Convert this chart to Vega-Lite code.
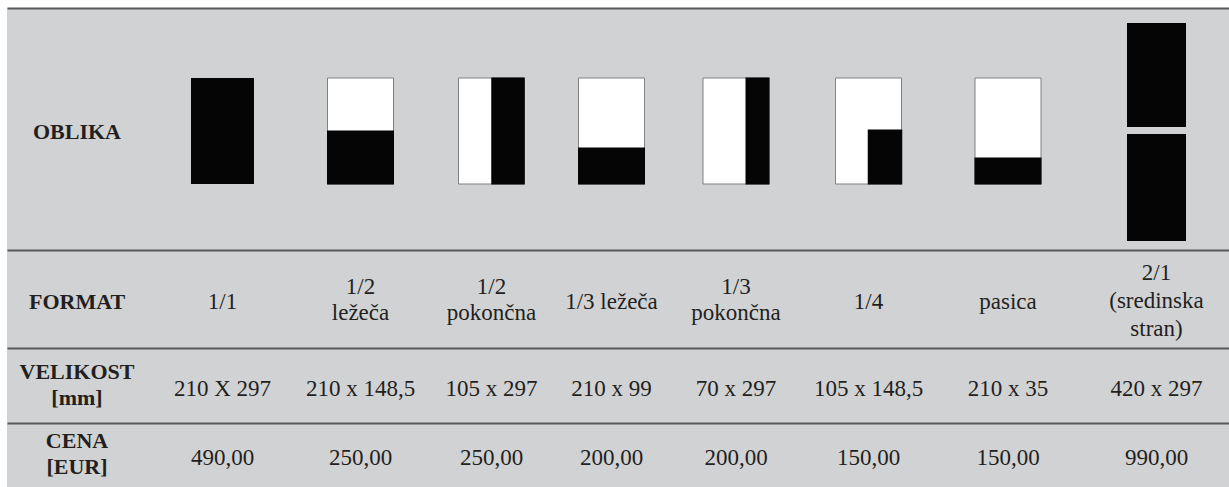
{
  "$schema": "https://vega.github.io/schema/vega-lite/v6.json",
  "width": 1222,
  "height": 479,
  "autosize": {"type": "none"},
  "padding": {"left": 7, "top": 8, "right": 0, "bottom": 0},
  "background": "#ffffff",
  "config": {
    "view": {"fill": "#d1d2d4", "stroke": null},
    "axis": {"gridColor": "#58595b", "gridWidth": 2, "gridOpacity": 1, "labels": false, "ticks": false, "domain": false},
    "text": {"font": "Liberation Serif", "color": "#231f20"}
  },
  "data": {
    "values": [
      {"kind": "label", "col": 0, "row": 0, "text": "OBLIKA"},
      {"kind": "label", "col": 0, "row": 1, "text": "FORMAT"},
      {"kind": "label", "col": 0, "row": 2, "text": "VELIKOST\n[mm]"},
      {"kind": "label", "col": 0, "row": 3, "text": "CENA\n[EUR]"},
      {"kind": "cell", "col": 1, "row": 1, "text": "1/1"},
      {"kind": "cell", "col": 1, "row": 2, "text": "210 X 297"},
      {"kind": "cell", "col": 1, "row": 3, "text": "490,00"},
      {"kind": "cell", "col": 2, "row": 1, "text": "1/2\nležeča"},
      {"kind": "cell", "col": 2, "row": 2, "text": "210 x 148,5"},
      {"kind": "cell", "col": 2, "row": 3, "text": "250,00"},
      {"kind": "cell", "col": 3, "row": 1, "text": "1/2\npokončna"},
      {"kind": "cell", "col": 3, "row": 2, "text": "105 x 297"},
      {"kind": "cell", "col": 3, "row": 3, "text": "250,00"},
      {"kind": "cell", "col": 4, "row": 1, "text": "1/3 ležeča"},
      {"kind": "cell", "col": 4, "row": 2, "text": "210 x 99"},
      {"kind": "cell", "col": 4, "row": 3, "text": "200,00"},
      {"kind": "cell", "col": 5, "row": 1, "text": "1/3\npokončna"},
      {"kind": "cell", "col": 5, "row": 2, "text": "70 x 297"},
      {"kind": "cell", "col": 5, "row": 3, "text": "200,00"},
      {"kind": "cell", "col": 6, "row": 1, "text": "1/4"},
      {"kind": "cell", "col": 6, "row": 2, "text": "105 x 148,5"},
      {"kind": "cell", "col": 6, "row": 3, "text": "150,00"},
      {"kind": "cell", "col": 7, "row": 1, "text": "pasica"},
      {"kind": "cell", "col": 7, "row": 2, "text": "210 x 35"},
      {"kind": "cell", "col": 7, "row": 3, "text": "150,00"},
      {"kind": "cell", "col": 8, "row": 1, "text": "2/1\n(sredinska\nstran)"},
      {"kind": "cell", "col": 8, "row": 2, "text": "420 x 297"},
      {"kind": "cell", "col": 8, "row": 3, "text": "990,00"},
      {"kind": "icon", "col": 1, "row": 0, "shape": "full"},
      {"kind": "icon", "col": 2, "row": 0, "shape": "half_h"},
      {"kind": "icon", "col": 3, "row": 0, "shape": "half_v"},
      {"kind": "icon", "col": 4, "row": 0, "shape": "third_h"},
      {"kind": "icon", "col": 5, "row": 0, "shape": "third_v"},
      {"kind": "icon", "col": 6, "row": 0, "shape": "quarter"},
      {"kind": "icon", "col": 7, "row": 0, "shape": "strip"},
      {"kind": "icon", "col": 8, "row": 0, "shape": "spread"}
    ]
  },
  "encoding": {
    "x": {
      "field": "col", "type": "quantitative", "title": null, "axis": null,
      "scale": {"domain": [-1, 0, 1, 2, 3, 4, 5, 6, 7, 8, 9], "range": [0, 70, 215.5, 353.5, 484.5, 604.5, 729, 861.5, 1001, 1149.5, 1222], "nice": false, "zero": false}
    },
    "y": {
      "field": "row", "type": "quantitative", "title": null,
      "scale": {"domain": [-0.5, 0.5, 1.5, 2.5, 3.5], "range": [0, 242, 340, 415, 479], "nice": false, "zero": false},
      "axis": {"values": [-0.5, 0.5, 1.5, 2.5], "grid": true}
    }
  },
  "layer": [
    {
      "transform": [{"filter": "datum.kind == 'icon' && datum.shape != 'full' && datum.shape != 'spread'"}],
      "mark": {"type": "rect", "width": 66, "height": 106, "yOffset": 2, "fill": "#ffffff", "stroke": "#808080", "strokeWidth": 1}
    },
    {
      "transform": [{"filter": "datum.shape == 'full'"}],
      "mark": {"type": "rect", "width": 63, "height": 106, "yOffset": 2, "fill": "#050505"}
    },
    {
      "transform": [{"filter": "datum.shape == 'half_h'"}],
      "mark": {"type": "rect", "width": 67, "height": 54, "yOffset": 28.5, "fill": "#050505"}
    },
    {
      "transform": [{"filter": "datum.shape == 'half_v'"}],
      "mark": {"type": "rect", "width": 33.5, "height": 107, "xOffset": 16.5, "yOffset": 2, "fill": "#050505"}
    },
    {
      "transform": [{"filter": "datum.shape == 'third_h'"}],
      "mark": {"type": "rect", "width": 67, "height": 37, "yOffset": 37, "fill": "#050505"}
    },
    {
      "transform": [{"filter": "datum.shape == 'third_v'"}],
      "mark": {"type": "rect", "width": 24, "height": 107, "xOffset": 21.5, "yOffset": 2, "fill": "#050505"}
    },
    {
      "transform": [{"filter": "datum.shape == 'quarter'"}],
      "mark": {"type": "rect", "width": 34.5, "height": 55, "xOffset": 16.5, "yOffset": 28, "fill": "#050505"}
    },
    {
      "transform": [{"filter": "datum.shape == 'strip'"}],
      "mark": {"type": "rect", "width": 67, "height": 27, "yOffset": 42, "fill": "#050505"}
    },
    {
      "transform": [{"filter": "datum.shape == 'spread'"}],
      "mark": {"type": "rect", "width": 59, "height": 104, "yOffset": -54, "fill": "#050505"}
    },
    {
      "transform": [{"filter": "datum.shape == 'spread'"}],
      "mark": {"type": "rect", "width": 59, "height": 107, "yOffset": 58.5, "fill": "#050505"}
    },
    {
      "transform": [{"filter": "datum.kind == 'label' && indexof(datum.text, '\\n') < 0"}],
      "mark": {"type": "text", "align": "center", "baseline": "middle", "fontSize": 22, "fontWeight": "bold", "dy": 3},
      "encoding": {"text": {"field": "text", "type": "nominal"}}
    },
    {
      "transform": [{"filter": "datum.kind == 'label' && indexof(datum.text, '\\n') >= 0"}],
      "mark": {"type": "text", "align": "center", "baseline": "middle", "fontSize": 22, "fontWeight": "bold", "lineBreak": "\n", "lineHeight": 26, "dy": -14},
      "encoding": {"text": {"field": "text", "type": "nominal"}}
    },
    {
      "transform": [{"filter": "datum.kind == 'cell' && indexof(datum.text, '\\n') < 0"}],
      "mark": {"type": "text", "align": "center", "baseline": "middle", "fontSize": 23, "dy": 3},
      "encoding": {"text": {"field": "text", "type": "nominal"}}
    },
    {
      "transform": [{"filter": "datum.kind == 'cell' && indexof(datum.text, '\\n') >= 0 && indexof(datum.text, '\\n') == lastindexof(datum.text, '\\n')"}],
      "mark": {"type": "text", "align": "center", "baseline": "middle", "fontSize": 23, "lineBreak": "\n", "lineHeight": 26, "dy": -12},
      "encoding": {"text": {"field": "text", "type": "nominal"}}
    },
    {
      "transform": [{"filter": "datum.kind == 'cell' && indexof(datum.text, '\\n') >= 0 && indexof(datum.text, '\\n') != lastindexof(datum.text, '\\n')"}],
      "mark": {"type": "text", "align": "center", "baseline": "middle", "fontSize": 23, "lineBreak": "\n", "lineHeight": 28, "dy": -26},
      "encoding": {"text": {"field": "text", "type": "nominal"}}
    }
  ]
}
